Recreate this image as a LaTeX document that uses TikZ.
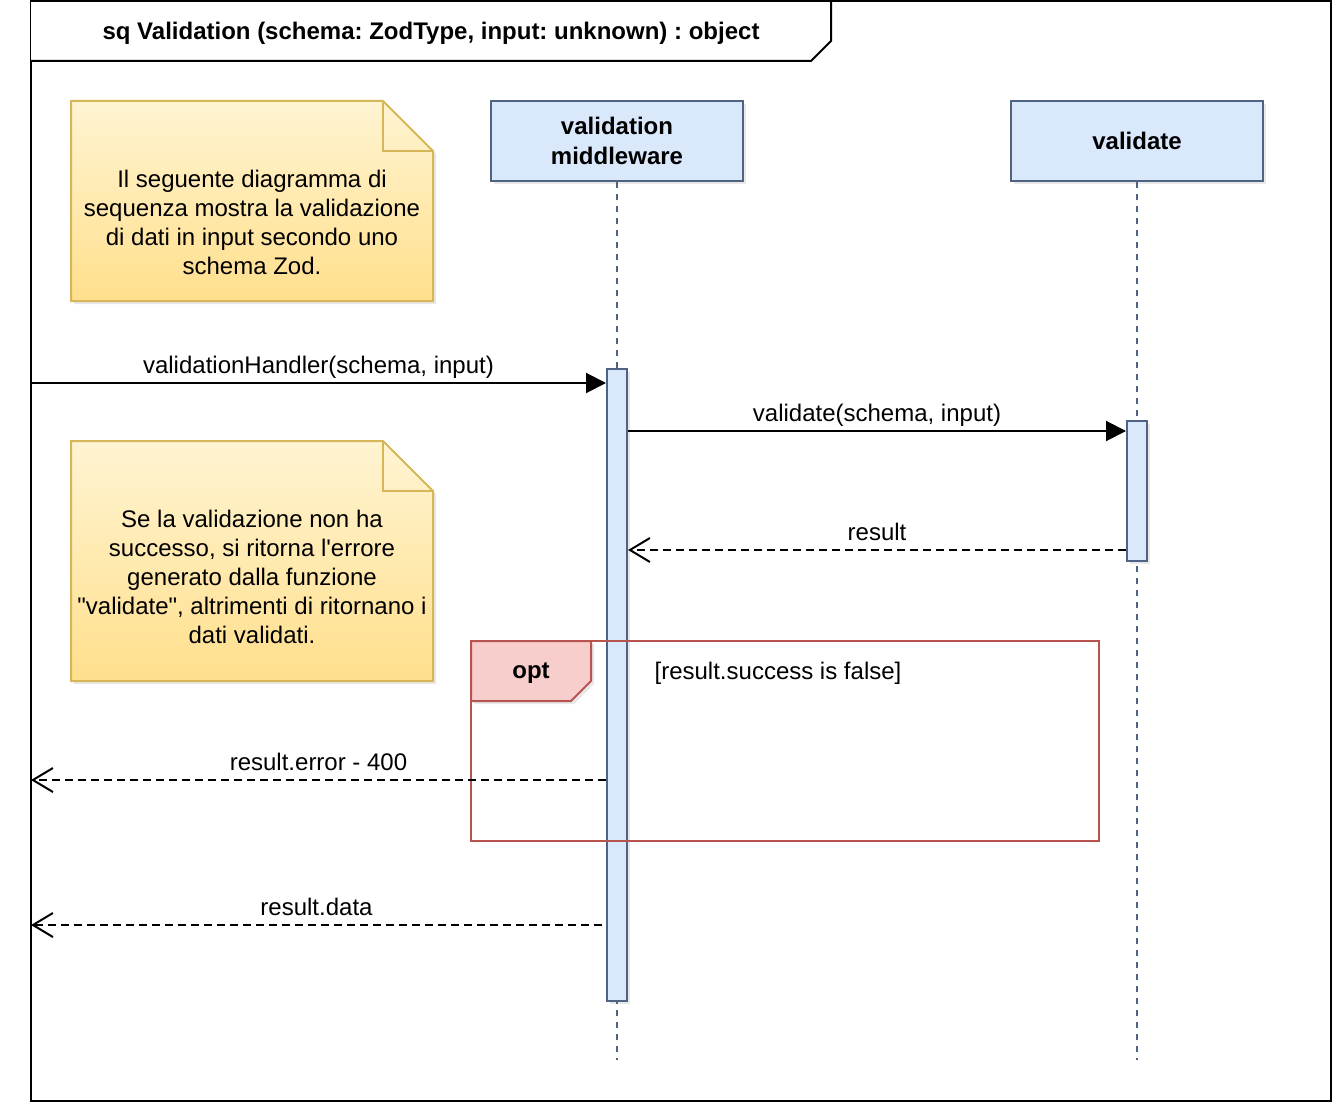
\documentclass[tikz,border=0pt]{standalone}
\usepackage{fontspec}
\setmainfont{Liberation Sans}[Ligatures=TeXOff]
\usetikzlibrary{arrows.meta,shadows,positioning}
\frenchspacing

\definecolor{lifeblue}{HTML}{4F6385}
\definecolor{headfill}{HTML}{DAE8FC}
\definecolor{notetop}{HTML}{FFF4D2}
\definecolor{notebot}{HTML}{FFDF8C}
\definecolor{notedraw}{HTML}{D6B656}
\definecolor{optred}{HTML}{B85450}
\definecolor{optfill}{HTML}{F8CECC}

\tikzset{
  bigfont/.style={font=\fontsize{24}{29}\selectfont},
  softshadow/.style={drop shadow={opacity=0.18, shadow xshift=3pt, shadow yshift=-3pt}},
  lifehead/.style={draw=lifeblue, fill=headfill, line width=2pt, minimum width=252pt,
    minimum height=80pt, inner sep=0pt, align=center, softshadow,
    font=\fontsize{24}{30}\selectfont\bfseries},
  actbar/.style={draw=lifeblue, fill=headfill, line width=2pt, minimum width=20pt, inner sep=0pt, softshadow},
  lifeline/.style={draw=lifeblue, line width=2pt, dash pattern=on 6pt off 6pt},
  notebox/.style={draw=notedraw, line width=2pt, top color=notetop, bottom color=notebot, softshadow},
  notetext/.style={bigfont, align=center, inner sep=0pt},
  msg/.style={line width=2pt, -{Triangle[length=20pt,width=20pt]}},
  reply/.style={line width=2pt, dash pattern=on 8pt off 5pt, -{Straight Barb[length=20pt,width=24pt,line width=2pt]}},
  lbl/.style={bigfont, inner sep=0pt, text height=18pt, text depth=5pt, above=4pt}
}

\begin{document}
\begin{tikzpicture}[x=1pt,y=-1pt]
  \useasboundingbox (0,0) rectangle (1332,1102);
  % cornice del diagramma
  \draw[line width=2pt] (31,1) rectangle (1331,1101);
  \draw[line width=2pt, fill=white] (31,1) -- (831,1) -- (831,41) -- (811,61) -- (31,61);
  \node[bigfont, font=\fontsize{24}{29}\selectfont\bfseries] (title) at (431,33) {sq Validation (schema: ZodType, input: unknown) : object};

  % note
  \draw[notebox] (71,101) -- (383,101) -- (433,151) -- (433,301) -- (71,301) -- cycle;
  \draw[draw=notedraw, line width=2pt] (383,101) -- (383,151) -- (433,151);
  \node[notetext] (note1) at (252,222) {Il seguente diagramma di\\sequenza mostra la validazione\\di dati in input secondo uno\\schema Zod.};
  \draw[notebox] (71,441) -- (383,441) -- (433,491) -- (433,681) -- (71,681) -- cycle;
  \draw[draw=notedraw, line width=2pt] (383,441) -- (383,491) -- (433,491);
  \node[notetext] (note2) at (252,577) {Se la validazione non ha\\successo, si ritorna l'errore\\generato dalla funzione\\"validate", altrimenti di ritornano i\\dati validati.};

  % lifeline
  \node[lifehead] (middleware) at (617,141) {validation\\middleware};
  \node[lifehead] (validate) at (1137,141) {validate};
  \coordinate (endmw) at (617,1060);
  \coordinate (endval) at (1137,1060);
  \draw[lifeline] (middleware.south) -- (endmw);
  \draw[lifeline] (validate.south) -- (endval);
  \node[actbar, minimum height=632pt] (actmw) at (617,685) {};
  \node[actbar, minimum height=140pt] (actval) at (1137,491) {};

  % frammento opt
  \draw[draw=optred, line width=2pt] (471,641) rectangle (1099,841);
  \draw[draw=optred, line width=2pt, fill=optfill, softshadow] (471,641) -- (591,641) -- (591,681) -- (571,701) -- (471,701) -- cycle;
  \node[bigfont, font=\fontsize{24}{29}\selectfont\bfseries] (opt) at (531,673) {opt};
  \node[bigfont] (guard) at (778,673) {[result.success is false]};

  % messaggi
  \coordinate (gatein) at (31,383);
  \coordinate (m2) at (0,431);
  \coordinate (r1) at (0,550);
  \coordinate (gateerr) at (31,780);
  \coordinate (gatedata) at (31,925);
  \draw[msg] (gatein) -- (gatein -| actmw.west) node[lbl, midway] {validationHandler(schema, input)};
  \draw[msg] (actmw.east |- m2) -- (actval.west |- m2) node[lbl, midway] {validate(schema, input)};
  \draw[reply] (actval.west |- r1) -- (actmw.east |- r1) node[lbl, midway] {result};
  \draw[reply] (gateerr -| actmw.west) -- (gateerr) node[lbl, midway] {result.error - 400};
  \draw[reply] ([xshift=-4pt]gatedata -| actmw.west) -- (gatedata) node[lbl, midway] {result.data};
\end{tikzpicture}
\end{document}
